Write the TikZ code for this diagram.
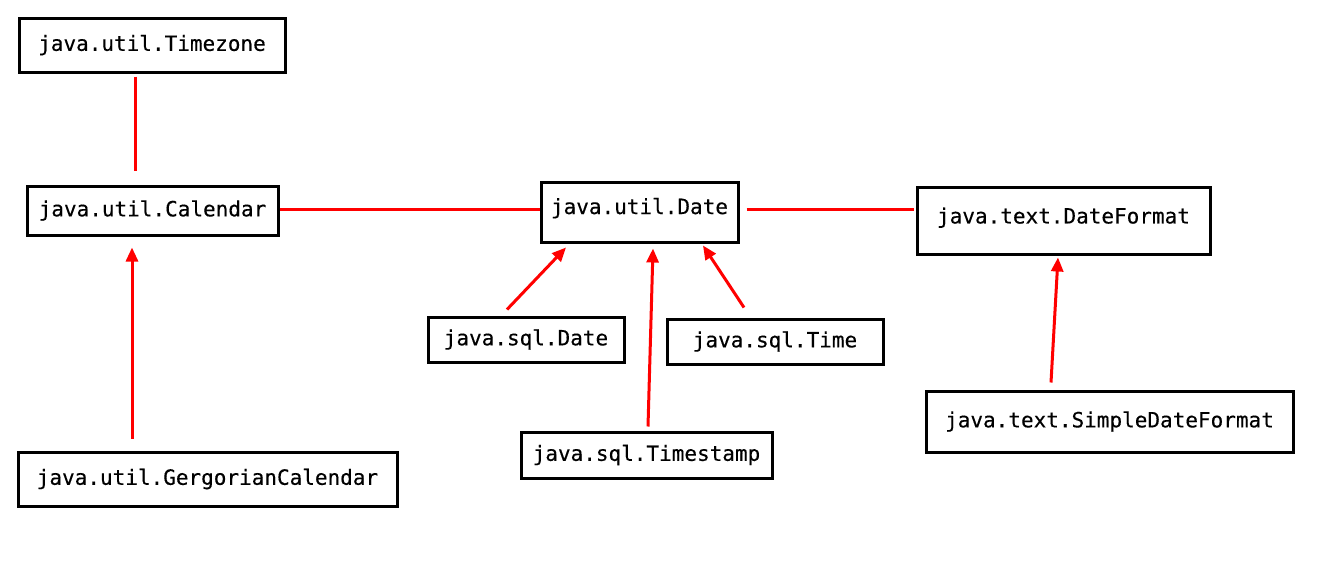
\documentclass[tikz,border=0pt]{standalone}
\usepackage{fontspec}
\usepackage{tikz}
\usetikzlibrary{arrows.meta}
\newfontfamily\monofont[FakeBold=0.3]{DejaVu Sans Mono}

\begin{document}
\begin{tikzpicture}[x=1pt, y=-1pt, font=\monofont\fontsize{21}{25}\selectfont,
    cls/.style={draw, rectangle, line width=3pt, inner sep=0pt},
    link/.style={draw=linkred, line width=3pt},
    inherit/.style={link, -{Triangle[length=14pt,width=12pt]}}]
  \definecolor{linkred}{HTML}{FF0000}

  \useasboundingbox (0,0) rectangle (1339,560);

  % Define positions
  \node (tz) [cls, minimum width=266pt, minimum height=54pt] at (152, 45) {java.util.Timezone};
  \node (cal) [cls, minimum width=251pt, minimum height=49pt] at (152.5, 210.5) {java.util.Calendar};
  \node (greg) [cls, minimum width=379pt, minimum height=54pt] at (207.5, 479) {java.util.GergorianCalendar};

  \node (udate) [cls, minimum width=197pt, minimum height=60pt, text depth=12pt] at (639.5, 212) {java.util.Date};
  \node (sdate) [cls, minimum width=196pt, minimum height=45pt] at (526, 339.5) {java.sql.Date};
  \node (stime) [cls, minimum width=216pt, minimum height=45pt] at (775, 341.5) {java.sql.Time};
  \node (stamp) [cls, minimum width=251pt, minimum height=46pt] at (646.5, 455) {java.sql.Timestamp};

  \node (dfmt) [cls, minimum width=293pt, minimum height=67pt, text depth=10pt] at (1063.5, 220.5) {java.text.DateFormat};
  \node (sdf) [cls, minimum width=367pt, minimum height=61pt] at (1109.5, 421.5) {java.text.SimpleDateFormat};

  % Associations
  \draw[link] ([xshift=-17pt, yshift=-3pt]tz.south) -- ([xshift=-17.5pt, yshift=14pt]cal.north);
  \draw[link] ([yshift=1.5pt]cal.east) -- ([yshift=3pt]udate.west);
  \draw[link] ([xshift=7pt, yshift=3pt]udate.east) -- ([xshift=-2pt, yshift=11.5pt]dfmt.west);

  % Inheritance
  \draw[inherit] ([xshift=-75.5pt, yshift=12pt]greg.north) -- ([xshift=-20.5pt, yshift=-11pt]cal.south);
  \draw[inherit] ([xshift=-19pt, yshift=6pt]sdate.north) -- ([xshift=-73.5pt, yshift=-4pt]udate.south);
  \draw[inherit] ([xshift=1.5pt, yshift=4pt]stamp.north) -- ([xshift=13.5pt, yshift=-5pt]udate.south);
  \draw[inherit] ([xshift=-31pt, yshift=10pt]stime.north) -- ([xshift=63.5pt, yshift=-2pt]udate.south);
  \draw[inherit] ([xshift=-58.5pt, yshift=7pt]sdf.north) -- ([xshift=-5.5pt, yshift=-2pt]dfmt.south);
\end{tikzpicture}
\end{document}
